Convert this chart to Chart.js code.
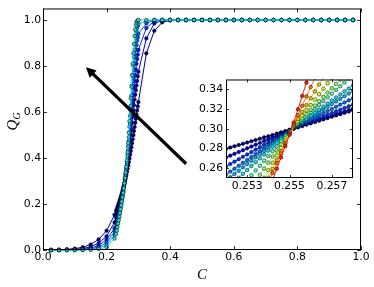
<!DOCTYPE html>
<html>
<head>
<meta charset="utf-8">
<script src="https://cdn.jsdelivr.net/npm/chart.js"></script>
<style>
  html, body { margin: 0; padding: 0; background: #fff; }
  #wrap { position: relative; width: 374px; height: 287px; }
  #main { position: absolute; left: 0; top: 0; }
  #inset { position: absolute; left: 186px; top: 70px; }
</style>
</head>
<body>
<div id="wrap">
  <canvas id="main" width="374" height="287"></canvas>
  <canvas id="inset" width="172" height="126"></canvas>
</div>
<script>
// ---------------- data ----------------
const mainC = [0.025,0.05,0.075,0.1,0.125,0.15,0.175,0.2,0.225,
  0.23,0.232,0.234,0.236,0.238,0.24,0.242,0.244,0.246,0.248,0.25,0.252,0.254,0.256,0.258,0.26,0.262,0.264,0.266,0.268,0.27,0.272,0.274,0.276,0.278,0.28,0.282,0.284,0.286,0.288,0.29,0.292,0.294,0.296,0.298,0.3,
  0.325,0.35,0.375,0.4,0.425,0.45,0.475,0.5,0.525,0.55,0.575,0.6,0.625,0.65,0.675,0.7,0.725,0.75,0.775,0.8,0.825,0.85,0.875,0.9,0.925,0.95,0.975];

const mainQ1 = [0,0.001,0.003,0.006,0.012,0.024,0.046,0.084,0.153,
  0.17,0.177,0.185,0.193,0.201,0.21,0.219,0.228,0.237,0.247,0.257,0.268,0.279,0.29,0.302,0.314,0.327,0.34,0.354,0.368,0.383,0.398,0.414,0.43,0.447,0.464,0.481,0.499,0.517,0.535,0.553,0.571,0.589,0.607,0.625,0.643,
  0.855,0.953,0.99,0.998,1,1,1,1,1,1,1,1,1,1,1,1,1,1,1,1,1,1,1,1,1,1,1];
const mainQ2 = [0,0,0.001,0.003,0.006,0.014,0.03,0.06,0.12,
  0.14,0.149,0.16,0.17,0.18,0.191,0.201,0.213,0.224,0.236,0.249,0.262,0.276,0.29,0.305,0.321,0.338,0.355,0.375,0.397,0.421,0.447,0.473,0.499,0.526,0.553,0.58,0.606,0.63,0.654,0.675,0.695,0.715,0.735,0.755,0.775,
  0.92,0.985,0.998,1,1,1,1,1,1,1,1,1,1,1,1,1,1,1,1,1,1,1,1,1,1,1,1];
const mainQ3 = [0,0,0,0.001,0.003,0.008,0.02,0.045,0.095,
  0.12,0.131,0.143,0.154,0.166,0.178,0.19,0.203,0.216,0.229,0.243,0.258,0.274,0.29,0.308,0.326,0.345,0.365,0.39,0.417,0.447,0.479,0.512,0.545,0.579,0.612,0.646,0.677,0.706,0.733,0.76,0.785,0.81,0.83,0.85,0.87,
  0.965,0.995,1,1,1,1,1,1,1,1,1,1,1,1,1,1,1,1,1,1,1,1,1,1,1,1,1];
const mainQ4 = [0,0,0,0.001,0.002,0.005,0.013,0.032,0.08,
  0.1,0.113,0.126,0.138,0.151,0.165,0.178,0.192,0.207,0.222,0.237,0.254,0.271,0.29,0.31,0.33,0.352,0.375,0.404,0.436,0.472,0.511,0.551,0.591,0.631,0.671,0.711,0.748,0.782,0.812,0.845,0.87,0.89,0.91,0.925,0.94,
  0.985,0.999,1,1,1,1,1,1,1,1,1,1,1,1,1,1,1,1,1,1,1,1,1,1,1,1,1];
const mainQ5 = [0,0,0,0,0.001,0.003,0.008,0.022,0.065,
  0.085,0.099,0.113,0.127,0.141,0.155,0.169,0.185,0.2,0.216,0.233,0.251,0.27,0.29,0.311,0.334,0.357,0.383,0.414,0.451,0.491,0.536,0.581,0.626,0.671,0.716,0.761,0.802,0.838,0.871,0.897,0.93,0.95,0.965,0.975,0.982,
  0.995,1,1,1,1,1,1,1,1,1,1,1,1,1,1,1,1,1,1,1,1,1,1,1,1,1,1];
const mainQ6 = [0,0,0,0,0,0.001,0.004,0.012,0.05,
  0.07,0.085,0.1,0.115,0.13,0.145,0.16,0.177,0.194,0.211,0.229,0.248,0.268,0.29,0.313,0.337,0.362,0.39,0.425,0.465,0.51,0.56,0.61,0.66,0.71,0.76,0.81,0.855,0.895,0.93,0.958,0.977,0.989,0.995,0.998,1,
  1,1,1,1,1,1,1,1,1,1,1,1,1,1,1,1,1,1,1,1,1,1,1,1,1,1,1];

const insetC = [0.252,0.2522,0.2524,0.2526,0.2528,0.253,0.2532,0.2534,0.2536,0.2538,0.254,0.2542,0.2544,0.2546,0.2548,0.255,0.2552,0.2554,0.2556,0.2558,0.256,0.2562,0.2564,0.2566,0.2568,0.257,0.2572,0.2574,0.2576,0.2578,0.258];

const insetQ1 = [0.2796,0.2809,0.2822,0.2835,0.2847,0.286,0.2873,0.2886,0.2899,0.2912,0.2924,0.2937,0.295,0.2963,0.2976,0.2989,0.3002,0.3015,0.3028,0.3042,0.3055,0.3068,0.3082,0.3095,0.3108,0.3122,0.3135,0.3148,0.3162,0.3175,0.3188];
const insetQ2 = [0.2708,0.2727,0.2745,0.2764,0.2782,0.2801,0.2819,0.2838,0.2856,0.2875,0.2893,0.2912,0.293,0.2949,0.2967,0.2986,0.3002,0.3017,0.3031,0.3046,0.306,0.3074,0.3089,0.3103,0.3118,0.3132,0.3146,0.3161,0.3175,0.319,0.3204];
const insetQ3 = [0.2617,0.2642,0.2666,0.269,0.2715,0.2739,0.2763,0.2788,0.2812,0.2837,0.2861,0.2885,0.291,0.2934,0.2958,0.2983,0.3004,0.3021,0.3038,0.3055,0.3073,0.309,0.3107,0.3124,0.3142,0.3159,0.3176,0.3193,0.3211,0.3228,0.3245];
const insetQ4 = [0.2535,0.2565,0.2594,0.2624,0.2654,0.2683,0.2713,0.2743,0.2772,0.2802,0.2832,0.2861,0.2891,0.2921,0.2951,0.298,0.3006,0.3028,0.3049,0.3071,0.3093,0.3115,0.3136,0.3158,0.318,0.3201,0.3223,0.3245,0.3267,0.3288,0.331];
const insetQ5 = [0.2473,0.2507,0.2541,0.2574,0.2608,0.2642,0.2675,0.2709,0.2743,0.2776,0.281,0.2844,0.2877,0.2911,0.2945,0.2978,0.3008,0.3035,0.3062,0.3089,0.3116,0.3143,0.3169,0.3196,0.3223,0.325,0.3277,0.3303,0.333,0.3357,0.3384];
const insetQ6 = [0.2384,0.2424,0.2463,0.2503,0.2542,0.2581,0.2621,0.266,0.27,0.2739,0.2778,0.2818,0.2857,0.2897,0.2936,0.2975,0.301,0.3041,0.3072,0.3102,0.3133,0.3164,0.3194,0.3225,0.3256,0.3286,0.3317,0.3348,0.3379,0.3409,0.344];
const insetQ7 = [0.2231,0.228,0.2329,0.2379,0.2428,0.2477,0.2527,0.2576,0.2625,0.2675,0.2724,0.2773,0.2822,0.2872,0.2921,0.297,0.3014,0.3052,0.309,0.3128,0.3166,0.3204,0.3242,0.328,0.3318,0.3356,0.3394,0.3432,0.347,0.3508,0.3546];
const insetQ8 = [null,null,null,null,null,null,0.241,0.2471,0.2533,0.2595,0.2656,0.2718,0.2779,0.2841,0.2903,0.2964,0.3017,0.3061,0.3105,0.3148,0.3192,0.3236,0.328,0.3324,0.3367,0.3411,0.3455,0.3499,0.3543,null,null];
const insetQ9 = [null,null,null,null,null,null,null,null,0.2427,0.2502,0.2578,0.2654,0.273,0.2806,0.2881,0.2957,0.3022,0.3077,0.3132,0.3187,0.3242,0.3296,0.3351,0.3406,0.3461,0.3516,null,null,null,null,null];
const insetQ10 = [null,null,null,null,null,null,null,null,null,0.2413,0.2502,0.2592,0.2681,0.2771,0.2861,0.295,0.303,0.31,0.317,0.3239,0.3309,0.3379,0.3449,0.3519,null,null,null,null,null,null,null];
const insetQ11 = [null,null,null,null,null,null,null,null,null,0.2354,0.2453,0.2551,0.265,0.2749,0.2847,0.2946,0.3043,0.3138,0.3233,0.3328,0.3423,0.3518,null,null,null,null,null,null,null,null,null];
const insetQ12 = [null,null,null,null,null,null,null,null,null,null,0.2365,0.2479,0.2594,0.2709,0.2823,0.2938,0.3063,0.3198,0.3333,0.3468,0.3603,null,null,null,null,null,null,null,null,null,null];

const mainXTicks = [0, 0.2, 0.4, 0.6, 0.8, 1.0];
const mainYTicks = [0, 0.2, 0.4, 0.6, 0.8, 1.0];
const insetXTicks = [0.253, 0.255, 0.257];
const insetYTicks = [0.26, 0.28, 0.30, 0.32, 0.34];

const arrowTail = [0.45, 0.375];
const arrowHead = [0.135, 0.795];

const mainSeries = [mainQ1, mainQ2, mainQ3, mainQ4, mainQ5, mainQ6];
const mainColors = ['#000080', '#0000d0', '#0020ff', '#0060ff', '#00a8ff', '#26d9c4'];
const insetSeries = [insetQ1, insetQ2, insetQ3, insetQ4, insetQ5, insetQ6, insetQ7, insetQ8, insetQ9, insetQ10, insetQ11, insetQ12];
const insetColors = ['#000080','#0000cd','#0030ff','#0070ff','#00b0ff','#10e0f0','#50ffb0','#90ff70','#d0ff30','#ffc000','#ff7000','#ff1a00'];

// ---------------- helpers ----------------
function frameAndTicks(len) {
  return {
    id: 'frameTicks',
    afterDatasetsDraw(chart) {
      const { ctx, chartArea: a, scales } = chart;
      ctx.save();
      ctx.strokeStyle = '#000';
      ctx.lineWidth = 1;
      ctx.strokeRect(a.left + 0.5, a.top + 0.5, a.right - a.left - 1, a.bottom - a.top - 1);
      ctx.lineWidth = 0.8;
      ctx.beginPath();
      scales.x.ticks.forEach(t => {
        const p = Math.round(scales.x.getPixelForValue(t.value)) + 0.5;
        ctx.moveTo(p, a.bottom); ctx.lineTo(p, a.bottom - len);
        ctx.moveTo(p, a.top); ctx.lineTo(p, a.top + len);
      });
      scales.y.ticks.forEach(t => {
        const p = Math.round(scales.y.getPixelForValue(t.value)) + 0.5;
        ctx.moveTo(a.left, p); ctx.lineTo(a.left + len, p);
        ctx.moveTo(a.right, p); ctx.lineTo(a.right - len, p);
      });
      ctx.stroke();
      ctx.restore();
    }
  };
}

const arrowPlugin = {
  id: 'arrow',
  afterDatasetsDraw(chart) {
    const { ctx, scales } = chart;
    const x0 = scales.x.getPixelForValue(arrowTail[0]), y0 = scales.y.getPixelForValue(arrowTail[1]);
    const x1 = scales.x.getPixelForValue(arrowHead[0]), y1 = scales.y.getPixelForValue(arrowHead[1]);
    const dx = x1 - x0, dy = y1 - y0, L = Math.hypot(dx, dy);
    const ux = dx / L, uy = dy / L, px = -uy, py = ux;
    const hl = 10, hw = 5;
    const bx = x1 - ux * hl, by = y1 - uy * hl;
    ctx.save();
    ctx.strokeStyle = '#000'; ctx.fillStyle = '#000';
    ctx.lineWidth = 3.2; ctx.lineCap = 'butt';
    ctx.beginPath(); ctx.moveTo(x0, y0); ctx.lineTo(bx + ux, by + uy); ctx.stroke();
    ctx.beginPath();
    ctx.moveTo(x1, y1);
    ctx.lineTo(bx + px * hw, by + py * hw);
    ctx.lineTo(bx - px * hw, by - py * hw);
    ctx.closePath(); ctx.fill();
    ctx.restore();
  }
};

const titlesPlugin = {
  id: 'titles',
  afterDraw(chart) {
    const { ctx, chartArea: a } = chart;
    ctx.save();
    ctx.fillStyle = '#000';
    ctx.font = 'italic 15px "Liberation Serif"';
    ctx.textAlign = 'center'; ctx.textBaseline = 'alphabetic';
    ctx.fillText('C', (a.left + a.right) / 2, 279);
    ctx.translate(17, 125);
    ctx.rotate(-Math.PI / 2);
    ctx.font = 'italic 15px "Liberation Serif"';
    ctx.fillText('Q', 0, 0);
    ctx.font = 'italic 10px "Liberation Serif"';
    ctx.fillText('G', 9, 3);
    ctx.restore();
  }
};

const whiteArea = {
  id: 'whiteArea',
  beforeDraw(chart) {
    const { ctx, chartArea: a } = chart;
    ctx.save(); ctx.fillStyle = '#fff';
    ctx.fillRect(a.left, a.top, a.right - a.left, a.bottom - a.top);
    ctx.restore();
  }
};

const tickFont = { family: 'DejaVu Sans', size: 10.8 };

// ---------------- main chart ----------------
new Chart(document.getElementById('main'), {
  type: 'line',
  data: {
    datasets: mainSeries.map((vals, i) => ({
      data: mainC.map((c, k) => ({ x: c, y: vals[k] })),
      borderColor: mainColors[i],
      backgroundColor: mainColors[i],
      pointBackgroundColor: mainColors[i],
      pointBorderColor: '#000',
      pointBorderWidth: 0.5,
      pointRadius: 1.8,
      borderWidth: 1,
      tension: 0,
      clip: false,
      order: mainSeries.length - i
    }))
  },
  options: {
    responsive: false, animation: false, devicePixelRatio: 1,
    layout: { padding: { top: 5, right: 13, left: 0, bottom: 0 } },
    plugins: { legend: { display: false }, tooltip: { enabled: false } },
    scales: {
      x: {
        type: 'linear', min: 0, max: 1,
        afterBuildTicks: s => { s.ticks = mainXTicks.map(v => ({ value: v })); },
        afterFit: s => { s.height = 37; },
        grid: { display: false, drawTicks: false }, border: { display: false },
        ticks: { padding: 1, color: '#000', font: tickFont, maxRotation: 0, autoSkip: false, callback: v => Number(v).toFixed(1) }
      },
      y: {
        type: 'linear', min: 0, max: 1.05,
        afterBuildTicks: s => { s.ticks = mainYTicks.map(v => ({ value: v })); },
        afterFit: s => { s.width = 43; },
        grid: { display: false, drawTicks: false }, border: { display: false },
        ticks: { padding: 2, color: '#000', font: tickFont, autoSkip: false, callback: v => Number(v).toFixed(1) }
      }
    }
  },
  plugins: [frameAndTicks(4), arrowPlugin, titlesPlugin]
});

// ---------------- inset chart ----------------
new Chart(document.getElementById('inset'), {
  type: 'line',
  data: {
    datasets: insetSeries.map((vals, i) => ({
      data: insetC.map((c, k) => ({ x: c, y: vals[k] })),
      borderColor: insetColors[i],
      backgroundColor: insetColors[i],
      pointBackgroundColor: insetColors[i],
      pointBorderColor: '#000',
      pointBorderWidth: 0.5,
      pointRadius: 1.8,
      borderWidth: 1,
      tension: 0,
      spanGaps: false,
      clip: 0,
      order: insetSeries.length - i
    }))
  },
  options: {
    responsive: false, animation: false, devicePixelRatio: 1,
    layout: { padding: { top: 6, right: 5, left: 0, bottom: 0 } },
    plugins: { legend: { display: false }, tooltip: { enabled: false } },
    scales: {
      x: {
        type: 'linear', min: 0.252, max: 0.258,
        afterBuildTicks: s => { s.ticks = insetXTicks.map(v => ({ value: v })); },
        afterFit: s => { s.height = 18; },
        grid: { display: false, drawTicks: false }, border: { display: false },
        ticks: { padding: 1.5, color: '#000', font: tickFont, maxRotation: 0, autoSkip: false, callback: v => Number(v).toFixed(3) }
      },
      y: {
        type: 'linear', min: 0.25, max: 0.35,
        afterBuildTicks: s => { s.ticks = insetYTicks.map(v => ({ value: v })); },
        afterFit: s => { s.width = 40; },
        grid: { display: false, drawTicks: false }, border: { display: false },
        ticks: { padding: 3, color: '#000', font: tickFont, autoSkip: false, callback: v => Number(v).toFixed(2) }
      }
    }
  },
  plugins: [whiteArea, frameAndTicks(3)]
});
</script>
</body>
</html>
